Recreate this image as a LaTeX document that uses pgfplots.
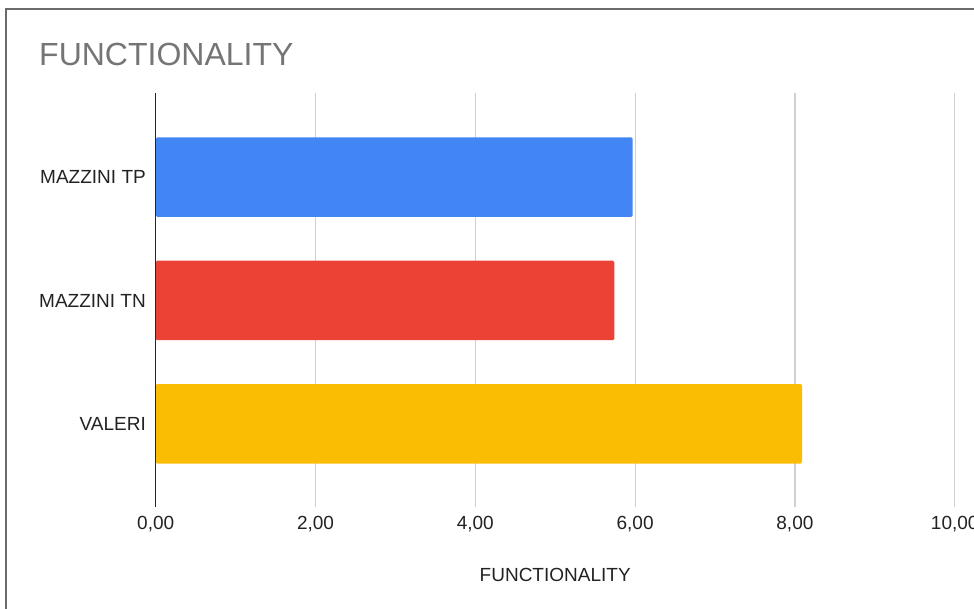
\documentclass[border=0pt]{standalone}
\usepackage{pgfplots}
\pgfplotsset{compat=1.18}
\usepackage{fontspec}
\setmainfont{Liberation Sans}
\definecolor{gblue}{HTML}{4285F4}
\definecolor{gred}{HTML}{EA4335}
\definecolor{gyellow}{HTML}{FBBC04}
\definecolor{titlegray}{HTML}{757575}
\definecolor{labelgray}{HTML}{222222}
\definecolor{gridgray}{HTML}{D0D0D0}
\definecolor{framegray}{HTML}{6B6B6B}
\begin{document}
\begin{tikzpicture}
\useasboundingbox (0pt,0pt) rectangle (974pt,609pt);
\draw[framegray, line width=1.6pt] (6pt,-2pt) -- (6pt,599.7pt) -- (980pt,599.7pt);
\node[anchor=base west, inner sep=0pt, text=titlegray, font=\fontsize{32}{38}\selectfont] at (39pt,543pt) {FUNCTIONALITY};
\begin{axis}[
  at={(155.7pt,102pt)}, anchor=south west,
  scale only axis, width=799pt, height=414pt,
  xmin=0, xmax=10, ymin=-0.675, ymax=2.683,
  axis x line=bottom, axis y line=left,
  x axis line style={draw=none}, y axis line style={draw=none},
  xtick={0,2,4,6,8,10},
  ytick={0,1,2},
  yticklabels={VALERI,MAZZINI TN,MAZZINI TP},
  major tick length=0pt,
  xtick style={draw=none}, ytick style={draw=none},
  xmajorgrids, grid style={draw=gridgray, line width=1.2pt},
  /pgf/number format/.cd, fixed, fixed zerofill, precision=2, use comma, assume math mode=true,
  /pgfplots/.cd,
  tick label style={font=\fontsize{19}{22}\selectfont, text=labelgray},
  yticklabel style={anchor=east, inner sep=0pt, xshift=-9.7pt},
  xticklabel style={anchor=north, inner sep=0pt, yshift=-9pt},
  xlabel={FUNCTIONALITY},
  xlabel style={at={(axis description cs:0.5,0)}, anchor=north, inner sep=0pt, yshift=-61pt, font=\fontsize{19}{22}\selectfont, text=labelgray},
  clip=false,
]
\addplot[xbar, bar width=79.5pt, bar shift=0pt, fill=gblue, draw=none, rounded corners=1.5pt] coordinates {(5.97,2)};
\addplot[xbar, bar width=79.5pt, bar shift=0pt, fill=gred, draw=none, rounded corners=1.5pt] coordinates {(5.74,1)};
\addplot[xbar, bar width=79.5pt, bar shift=0pt, fill=gyellow, draw=none, rounded corners=1.5pt] coordinates {(8.09,0)};
\draw[black!85, line width=1.3pt] (rel axis cs:0,0) -- (rel axis cs:0,1);
\end{axis}
\end{tikzpicture}
\end{document}
